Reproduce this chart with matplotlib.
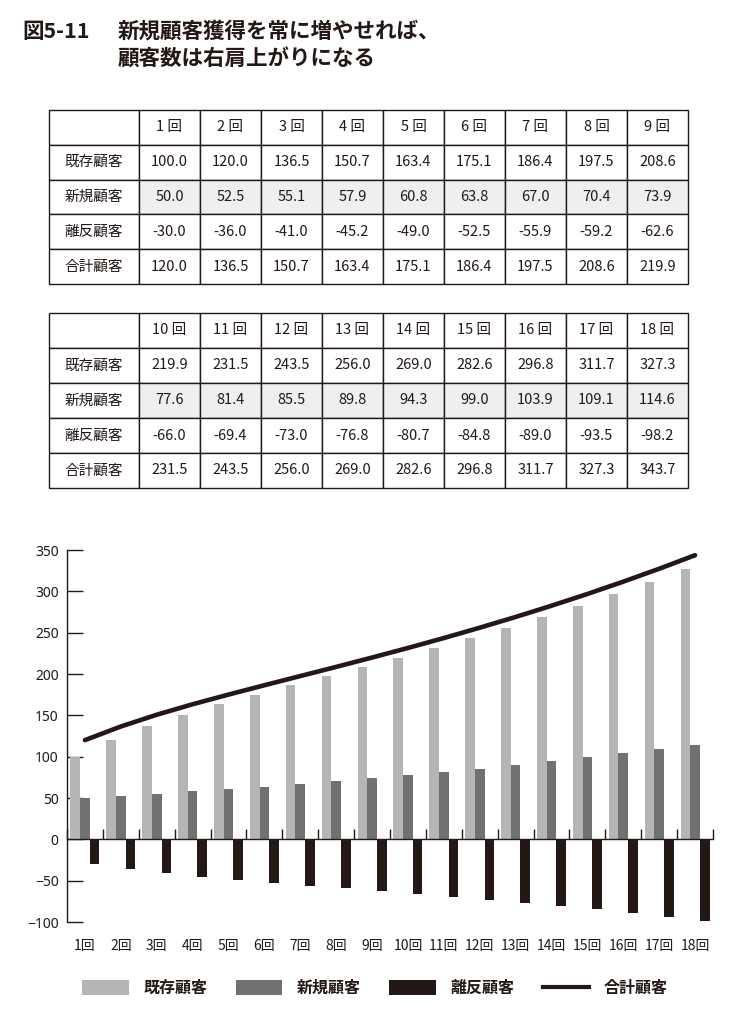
import numpy as np
import matplotlib
matplotlib.use("Agg")
import matplotlib.pyplot as plt
from matplotlib.patches import Patch
from matplotlib.lines import Line2D

plt.rcParams["font.family"] = ["Noto Sans CJK JP", "DejaVu Sans"]

W, H = 735, 1027
INK = "#231815"
C_EXIST = "#b5b5b6"
C_NEW = "#727171"
C_CHURN = "#231815"
C_SHADE = "#eeefef"

# data
rounds = [f"{i}回" for i in range(1, 19)]
row_labels = ["既存顧客", "新規顧客", "離反顧客", "合計顧客"]
existing = [100.0, 120.0, 136.5, 150.7, 163.4, 175.1, 186.4, 197.5, 208.6,
            219.9, 231.5, 243.5, 256.0, 269.0, 282.6, 296.8, 311.7, 327.3]
new = [50.0, 52.5, 55.1, 57.9, 60.8, 63.8, 67.0, 70.4, 73.9,
       77.6, 81.4, 85.5, 89.8, 94.3, 99.0, 103.9, 109.1, 114.6]
churn = [-30.0, -36.0, -41.0, -45.2, -49.0, -52.5, -55.9, -59.2, -62.6,
         -66.0, -69.4, -73.0, -76.8, -80.7, -84.8, -89.0, -93.5, -98.2]
total = [120.0, 136.5, 150.7, 163.4, 175.1, 186.4, 197.5, 208.6, 219.9,
         231.5, 243.5, 256.0, 269.0, 282.6, 296.8, 311.7, 327.3, 343.7]
yticks = [-100, -50, 0, 50, 100, 150, 200, 250, 300, 350]


def frac(left, top, right, bottom):
    """pixel box -> figure fraction rect"""
    return [left / W, 1 - bottom / H, (right - left) / W, (bottom - top) / H]


fig = plt.figure(figsize=(W / 100, H / 100), dpi=100)

# title
fig.text(22 / W, 1 - 31 / H, "図5-11", fontsize=15.5, weight="bold",
         color=INK, va="center")
fig.text(118 / W, 1 - 31 / H, "新規顧客獲得を常に増やせれば、", fontsize=15.5,
         weight="bold", color=INK, va="center")
fig.text(118 / W, 1 - 59 / H, "顧客数は右肩上がりになる", fontsize=15.5,
         weight="bold", color=INK, va="center")


def draw_table(rect, idx):
    ax = fig.add_axes(rect)
    ax.axis("off")
    header = [""] + [f"{i + 1} 回" for i in idx]
    rows = [header]
    for name, vals in zip(row_labels, [existing, new, churn, total]):
        rows.append([name] + [f"{vals[i]:.1f}" for i in idx])
    widths = [90] + [61] * len(idx)
    widths = [w / sum(widths) for w in widths]
    tbl = ax.table(cellText=rows, cellLoc="center", colWidths=widths,
                   bbox=[0, 0, 1, 1])
    tbl.auto_set_font_size(False)
    for (r, c), cell in tbl.get_celld().items():
        cell.set_edgecolor(INK)
        cell.set_linewidth(1.0)
        cell.get_text().set_fontsize(10.5)
        cell.get_text().set_color(INK)
        if r == 2 and c > 0:
            cell.set_facecolor(C_SHADE)


draw_table(frac(49, 110, 688, 284), range(0, 9))
draw_table(frac(49, 313, 688, 488), range(9, 18))

# chart
ax = fig.add_axes(frac(67, 550, 713, 922))
x = np.arange(len(rounds)) + 0.5
bw = 0.27
ax.bar(x - bw, existing, bw, color=C_EXIST, zorder=2)
ax.bar(x, new, bw, color=C_NEW, zorder=2)
ax.bar(x + bw, churn, bw, color=C_CHURN, zorder=2)
ax.plot(x, total, color=INK, lw=3.3, solid_capstyle="round", zorder=3)

ax.set_xlim(0, len(rounds))
ax.set_ylim(-100, 350)
ax.spines["top"].set_visible(False)
ax.spines["right"].set_visible(False)
ax.spines["bottom"].set_position(("data", 0))
for s in ("left", "bottom"):
    ax.spines[s].set_color(INK)
    ax.spines[s].set_linewidth(1.0)
    ax.spines[s].set_zorder(4)

ax.set_yticks(yticks)
ax.set_yticklabels([f"{v}".replace("-", "\u2212") for v in yticks],
                   family=["Noto Sans", "DejaVu Sans"])
ax.tick_params(axis="y", direction="in", length=11.5, width=1.0,
               colors=INK, labelsize=10, pad=6)
ax.set_xticks(np.arange(len(rounds) + 1))
ax.tick_params(axis="x", direction="in", length=7, width=1.0,
               colors=INK, labelbottom=False)

sec = ax.secondary_xaxis(0)
sec.set_xticks(x)
sec.set_xticklabels(rounds)
sec.tick_params(length=0, labelsize=10, pad=12, colors=INK)
sec.spines["bottom"].set_visible(False)

# legend
handles = [Patch(facecolor=C_EXIST), Patch(facecolor=C_NEW),
           Patch(facecolor=C_CHURN), Line2D([], [], color=INK, lw=3)]
leg = fig.legend(handles, row_labels, loc="center",
                 bbox_to_anchor=(375 / W, 1 - 988 / H), ncol=4,
                 frameon=False, fontsize=11.5, handlelength=2.9,
                 handleheight=1.1, handletextpad=0.9, columnspacing=1.8)
for t in leg.get_texts():
    t.set_color(INK)
    t.set_weight("bold")

fig.savefig("out.png", dpi=100)
